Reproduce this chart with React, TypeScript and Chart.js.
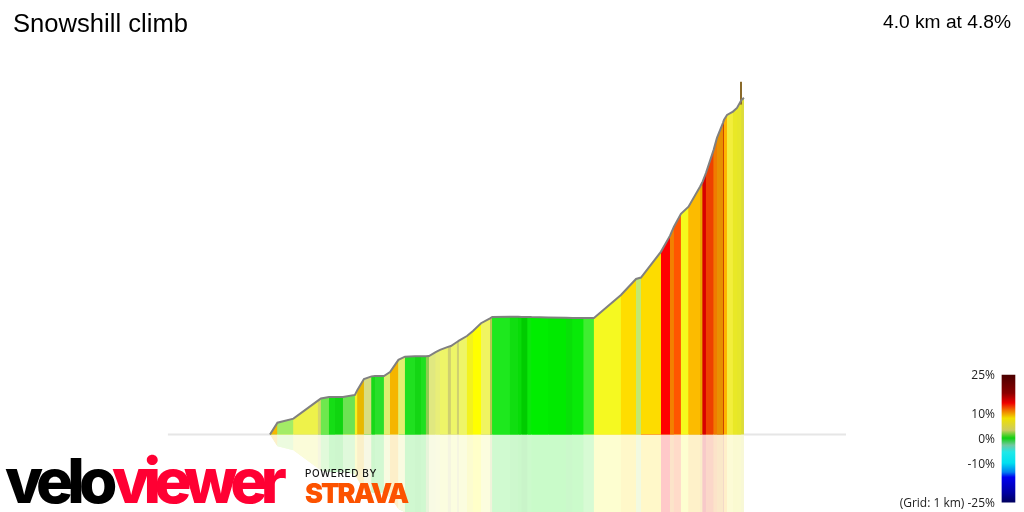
import { Chart, registerables } from "chart.js";
import { useEffect, useRef } from "react";

Chart.register(...registerables);

// profile, distance in km and elevation in m
const distanceKm = [
  0, 0.063, 0.198, 0.405, 0.43, 0.498, 0.549, 0.616, 0.717, 0.738, 0.793, 0.857,
  0.886, 0.962, 1.013, 1.084, 1.139, 1.224, 1.274, 1.316, 1.342, 1.398, 1.435,
  1.502, 1.527, 1.578, 1.595, 1.662, 1.713, 1.781, 1.857, 1.876, 2.025, 2.095,
  2.124, 2.174, 2.207, 2.348, 2.498, 2.554, 2.647, 2.734, 2.962, 3.089, 3.131,
  3.3, 3.376, 3.409, 3.468, 3.532, 3.629, 3.651, 3.679, 3.744, 3.772, 3.823,
  3.831, 3.857, 3.907, 3.941, 3.979, 4.0,
];
const elevationM = [
  0, 6.7, 9, 19.3, 20.5, 21.4, 21.4, 21.4, 22.5, 25.4, 31.6, 33.1, 33.3, 33.3,
  35.6, 42.5, 44.3, 44.5, 44.5, 44.5, 44.7, 46.9, 48.2, 49.9, 50.4, 52.7, 53.5,
  56.1, 59, 63.4, 66.2, 67, 67.1, 67.1, 67, 67, 66.9, 66.7, 66.5, 66.4, 66.4,
  66.4, 79.5, 88.6, 89.4, 104.2, 113.3, 118.4, 125.7, 129.8, 141.2, 144.1, 149,
  162.2, 169, 177.6, 179.3, 182.1, 184, 186.1, 190.7, 191.8,
];
const segmentColors = [
  "#f5b800", "#a3ec66", "#eef24a", "#d6d66a", "#6ee84e", "#15dd15", "#10d510",
  "#6de352", "#f6f020", "#e8b800", "#d8dd80", "#18d818", "#2adf2a", "#e0ee70",
  "#f5b500", "#e4ee70", "#1fe01f", "#14d614", "#1fe01f", "#8fcc50", "#e0e880",
  "#e8ee78", "#eef568", "#cfd070", "#eef568", "#cfd070", "#eef568", "#f3f21f",
  "#ffff00", "#f0f460", "#b8c850", "#1ee81e", "#10de10", "#08dc08", "#00cc00",
  "#0ae80a", "#00ee00", "#00ea00", "#08e008", "#08ea08", "#3fee30", "#f5f921",
  "#ffdd00", "#c3e870", "#fddc00", "#ff0000", "#f28000", "#ff5500", "#f5f91d",
  "#fcbb00", "#e8a800", "#d80000", "#ee4000", "#f07b00", "#e89000", "#c84000",
  "#ffb400", "#f2ee3c", "#e9e826", "#e6e62a", "#dcdc3a",
];
const spikeKm = [3.975, 3.975];
const spikeM = [188, 201];
const baselineKm = [-0.861, 4.861];

// colour key
const gradeStops = [25, 17.9, 14, 11.2, 8, 3.3, 0.2, -2.6, -5.3, -9.6, -13.2, -15.2, -21.5, -25];
const gradeColors = [
  "#4b0000", "#8b0000", "#ee0000", "#f07000", "#f0e000", "#cccc60", "#10d010",
  "#70c8a0", "#20e8e8", "#00e0f0", "#0080f0", "#0000f0", "#0000a0", "#000060",
];
const gradeTicks = [25, 10, 0, -10, -25];
const gradeLabels = ["25%", "10%", "0%", "-10%", "(Grid: 1 km) -25%"];
const keyKm = 6.232;

const titleText = "Snowshill climb";
const summaryText = "4.0 km at 4.8%";

// the reflection is the same colour washed out on white
function washed(color: string): string {
  const channel = (at: number) => {
    const value = parseInt(color.slice(at, at + 2), 16);
    return Math.round(255 - (255 - value) * 0.21);
  };
  return `rgb(${channel(1)}, ${channel(3)}, ${channel(5)})`;
}

// each band also runs under its left neighbour, so no white seam shows between them
function bandPoints(i: number, sign: number) {
  const points = [];
  for (let p = Math.max(0, i - 1); p <= i + 1; p++) {
    points.push({ x: distanceKm[p], y: sign * elevationM[p] });
  }
  return points;
}

const textPlugin = {
  id: "chartText",
  afterDraw(chart: any) {
    const { ctx } = chart;
    const put = (text: string, x: number, y: number, font: string, color: string, align: any = "left", spacing = "0px") => {
      ctx.font = font;
      ctx.fillStyle = color;
      ctx.textAlign = align;
      ctx.letterSpacing = spacing;
      ctx.fillText(text, x, y);
    };
    ctx.save();
    ctx.textBaseline = "alphabetic";
    put(titleText, 13, 32, '25.6px "Liberation Sans"', "#000");
    put(summaryText, 1011, 28, '19.2px "Liberation Sans"', "#000", "right");

    ctx.textBaseline = "middle";
    gradeTicks.forEach((tick, i) => {
      put(gradeLabels[i], 995, chart.scales.yGrade.getPixelForValue(tick) + 1, '12px "Open Sans"', "#222", "right");
    });

    ctx.textBaseline = "alphabetic";
    put("velo", 5, 503, '800 62px "Inter"', "#000", "left", "-6px");
    put("viewer", 112, 503, '800 62px "Inter"', "#ff0033", "left", "-6.7px");
    put("POWERED BY", 305, 477, '500 10px "Inter"', "#111", "left", "0.6px");
    put("STRAVA", 305, 503, '900 27px "Inter"', "#fc5200", "left", "-2px");
    ctx.restore();
  },
};

function SnowshillChart(): JSX.Element {
  const chartCanvasRef = useRef<HTMLCanvasElement | null>(null);

  useEffect(() => {
    const chartCanvas = chartCanvasRef.current;
    if (!chartCanvas) return;

    const segments = segmentColors.map((color, i) => ({
      type: "line" as const,
      data: bandPoints(i, 1),
      fill: "origin",
      backgroundColor: color,
      borderWidth: 0,
      pointRadius: 0,
    }));
    const reflections = segmentColors.map((color, i) => ({
      type: "line" as const,
      data: bandPoints(i, -1),
      fill: "origin",
      backgroundColor: washed(color),
      borderWidth: 0,
      pointRadius: 0,
    }));

    const chartInstance = new Chart(chartCanvas, {
      type: "line",
      data: {
        datasets: [
          {
            type: "line",
            data: distanceKm.map((x, i) => ({ x, y: elevationM[i] })),
            borderColor: "#808080",
            borderWidth: 2,
            pointRadius: 0,
            fill: false,
          },
          {
            type: "line",
            data: spikeKm.map((x, i) => ({ x, y: spikeM[i] })),
            borderColor: "#8a6a2a",
            borderWidth: 2,
            pointRadius: 0,
            fill: false,
          },
          {
            type: "bar",
            data: [{ x: keyKm, y: [-25, 25] }],
            yAxisID: "yGrade",
            barThickness: 13,
            backgroundColor: (context: any) => {
              const scale = context.chart.scales.yGrade;
              const top = scale ? scale.getPixelForValue(25) : NaN;
              const bottom = scale ? scale.getPixelForValue(-25) : NaN;
              if (!Number.isFinite(top) || !Number.isFinite(bottom)) return "#000";
              const gradient = context.chart.ctx.createLinearGradient(0, top, 0, bottom);
              gradeStops.forEach((grade, i) => gradient.addColorStop((25 - grade) / 50, gradeColors[i]));
              return gradient;
            },
          },
          ...segments,
          ...reflections,
          {
            type: "line",
            data: baselineKm.map((x) => ({ x, y: 0 })),
            borderColor: "#e6e6e6",
            borderWidth: 2,
            pointRadius: 0,
            fill: false,
          },
        ] as any,
      },
      options: {
        animation: false,
        responsive: false,
        devicePixelRatio: 1,
        layout: { padding: 0 },
        plugins: { legend: { display: false }, tooltip: { enabled: false } },
        scales: {
          x: { type: "linear", display: false, offset: false, min: -2.278, max: 6.363 },
          y: { type: "linear", display: false, min: -44.2, max: 247.6 },
          yGrade: { type: "linear", display: false, min: -28.9, max: 172.6 },
        },
      },
      plugins: [textPlugin],
    });
    return () => {
      chartInstance.destroy();
    };
  }, []);

  return (
    <div style={{ position: "fixed", left: 0, top: 0, width: 1024, height: 512 }}>
      <canvas ref={chartCanvasRef} width={1024} height={512}></canvas>
    </div>
  );
}

export default SnowshillChart;
